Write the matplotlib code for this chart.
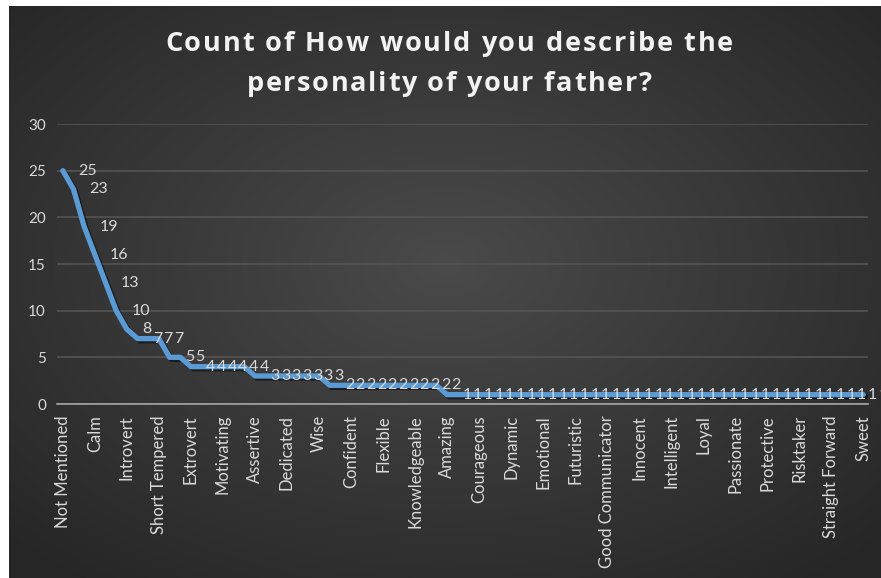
"""
Line chart: Count of How would you describe the personality of your father?
Recreated in matplotlib, dark Excel-like style.
"""

import matplotlib.pyplot as plt
import matplotlib.patheffects as pe
import numpy as np


# counts per personality trait, sorted descending (76 categories)
counts = [
    25, 23, 19, 16, 13, 10, 8, 7, 7, 7,
    5, 5, 4, 4, 4, 4, 4, 4, 3, 3,
    3, 3, 3, 3, 3, 2, 2, 2, 2, 2,
    2, 2, 2, 2, 2, 2, 1, 1, 1, 1,
    1, 1, 1, 1, 1, 1, 1, 1, 1, 1,
    1, 1, 1, 1, 1, 1, 1, 1, 1, 1,
    1, 1, 1, 1, 1, 1, 1, 1, 1, 1,
    1, 1, 1, 1, 1, 1,
]

# only every third category name is shown on the axis
tick_labels = [
    "Not Mentioned", "Calm", "Introvert", "Short Tempered", "Extrovert",
    "Motivating", "Assertive", "Dedicated", "Wise", "Confident",
    "Flexible", "Knowledgeable", "Amazing", "Courageous", "Dynamic",
    "Emotional", "Futuristic", "Good Communicator", "Innocent", "Intelligent",
    "Loyal", "Passionate", "Protective", "Risktaker", "Straight Forward",
    "Sweet",
]
tick_step = 3

title_lines = ["Count of How would you describe the", "personality of your father?"]

FONT = "Lato"
TITLE_FONT = "Open Sans"
TEXT_COLOR = "#d9d9d9"
LINE_COLOR = "#5b9bd5"
GRID_COLOR = "#545454"
W, H = 881, 578


def draw_background(fig):
    """Radial dark-grey gradient inside a thin white outer margin."""
    bg = fig.add_axes([9 / W, 0, 1 - 9 / W, 1 - 6 / H])
    h, w = 300, 450
    yy, xx = np.mgrid[0:h, 0:w]
    cx, cy = w * 0.5, h * 0.45
    r = np.sqrt(((xx - cx) / w) ** 2 + ((yy - cy) / h) ** 2) / 0.7
    shade = 0.29 - 0.14 * np.clip(r, 0, 1)
    img = np.dstack([shade, shade, shade])
    bg.imshow(img, aspect="auto", extent=[0, 1, 0, 1], interpolation="bilinear")
    bg.set_axis_off()


def spaced_title(fig, line, center_x, baseline_y, target_width, **kw):
    """Draw one title line with letter spacing so it spans target_width px."""
    renderer = fig.canvas.get_renderer()

    def width(s):
        t = fig.text(0, 0, s + "|", **kw)
        bar = fig.text(0, 0, "|", **kw)
        wd = t.get_window_extent(renderer).width - bar.get_window_extent(renderer).width
        t.remove()
        bar.remove()
        return wd

    natural = width(line)
    track = max(0.0, (target_width - natural) / (len(line) - 1))
    total = natural + track * (len(line) - 1)
    start = center_x - total / 2
    for i, ch in enumerate(line):
        if ch == " ":
            continue
        px = start + width(line[:i]) + i * track
        fig.text(px / W, 1 - baseline_y / H, ch, ha="left", va="baseline", **kw)


def main() -> None:
    fig = plt.figure(figsize=(W / 100, H / 100), dpi=100, facecolor="white")
    draw_background(fig)

    ax = fig.add_axes([57 / W, 1 - 404 / H, (868 - 57) / W, (404 - 124) / H])
    ax.set_facecolor("none")

    x = np.arange(len(counts))
    ax.plot(
        x, counts,
        color=LINE_COLOR, linewidth=3.8, solid_joinstyle="round",
        solid_capstyle="round", zorder=3,
        path_effects=[
            pe.SimpleLineShadow(offset=(1.5, -1.5), shadow_color="black", alpha=0.5),
            pe.Normal(),
        ],
    )

    for xi, v in zip(x, counts):
        ax.annotate(
            str(v), (xi, v), xytext=(11, 0), textcoords="offset points",
            ha="left", va="center", color=TEXT_COLOR, fontsize=11.5,
            family=FONT, zorder=4, annotation_clip=False,
        )

    ax.set_xlim(-0.55, len(counts) - 1 + 0.45)
    ax.set_ylim(0, 30)
    ax.set_yticks([0, 5, 10, 15, 20, 25, 30])
    ax.yaxis.grid(True, color=GRID_COLOR, linewidth=1.2)
    ax.set_axisbelow(True)

    tick_pos = x[::tick_step]
    ax.set_xticks(tick_pos)
    ax.set_xticklabels(tick_labels, rotation=90, family=FONT, fontsize=12,
                       color=TEXT_COLOR)
    for lab in ax.get_yticklabels():
        lab.set_family(FONT)
        lab.set_fontsize(11)
        lab.set_color(TEXT_COLOR)

    ax.tick_params(axis="both", length=0, pad=8)
    for side in ["top", "right", "left"]:
        ax.spines[side].set_visible(False)
    ax.spines["bottom"].set_color("#a6a6a6")
    ax.spines["bottom"].set_linewidth(1.2)

    title_kw = dict(color="#f2f2f2", fontsize=19.5, fontweight="bold", family=TITLE_FONT)
    spaced_title(fig, title_lines[0], 449, 51, 568, **title_kw)
    spaced_title(fig, title_lines[1], 449, 91, 405, **title_kw)

    fig.savefig("out.png", dpi=100, facecolor=fig.get_facecolor())
    plt.close(fig)


if __name__ == "__main__":
    main()
